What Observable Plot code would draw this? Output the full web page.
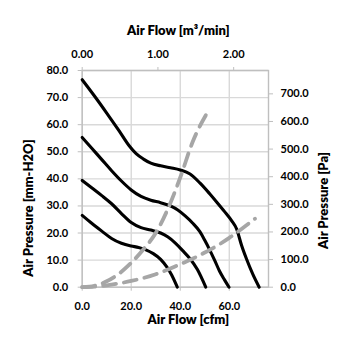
<!DOCTYPE html>
<html><head><meta charset="utf-8">
<script src="https://cdn.jsdelivr.net/npm/d3@7"></script>
<script src="https://cdn.jsdelivr.net/npm/@observablehq/plot@0.6"></script>
<style>html,body{margin:0;padding:0;background:#fff}#chart{width:355px;height:355px}</style>
</head><body><div id="chart"></div>
<script>
// Axis ticks
const cfmTicks = [0, 20, 40, 60];
const mmTicks = [0, 10, 20, 30, 40, 50, 60, 70, 80];
const paTicks = [0, 100, 200, 300, 400, 500, 600, 700];
const m3Ticks = [0, 1, 2];
const cfmMax = 76, mmMax = 80, m3Max = 2.46, paPerMm = 9.80665;

// Fan P-Q curves [cfm, mm-H2O]
const curveA = [[0,76.6],[5,70.6],[10,64.3],[15,57.8],[19,52.4],[22,49.3],[25,47.3],[28,45.8],[32,44.8],[36,44.1],[40,43.3],[44,41.8],[48,38.5],[52,34.5],[55,31.3],[58,28],[61,24.5],[63,21.5],[65,15.5],[67,10.5],[69.5,5],[72.2,0]];
const curveB = [[0,55.3],[4,51.2],[8,47.1],[12,43],[16,39.2],[20,35.9],[24,33.5],[28,32.1],[32,31.2],[36,30],[39,28.5],[42,26.3],[45,23.7],[48,20.5],[50,17.3],[52,13.8],[54,10],[56,6],[58,2.8],[59.9,0]];
const curveC = [[0,39.4],[4,36.6],[8,33.8],[12,30.8],[16,27.2],[20,23.9],[24,22],[28,21.1],[32,20],[35,18.5],[38,16.3],[41,13.5],[44,10.5],[47,6.5],[50.4,0]];
const curveD = [[0,26.5],[4,23.5],[8,20.7],[12,18],[16,16.2],[20,15.2],[23,14.7],[26,13.8],[29,12.4],[32,10.3],[34.5,7.5],[36.5,4.5],[38.8,0]];
// System impedance curves
const impHigh = [[0,0],[5,0.5],[10,2.2],[15,5],[20,9],[25,14],[30,20],[35,29],[40,40.5],[45,53.5],[51.7,65.5]];
const impLow = [[0,0],[5,0.2],[10,0.7],[15,1.4],[20,2.3],[25,3.4],[30,4.8],[35,6.5],[40,8.5],[45,10.5],[50,12.8],[55,15.3],[60,18.2],[65,21.5],[70.5,25.3]];

const fan = [["A",curveA],["B",curveB],["C",curveC],["D",curveD]]
  .flatMap(([k, pts]) => pts.map(([q, p]) => ({k, q, p})));
const imp = [["H",impHigh],["L",impLow]]
  .flatMap(([k, pts]) => pts.map(([q, p]) => ({k, q, p})));

const font = "Lato, 'Open Sans', sans-serif";
const gridColor = "#d9d9d9", axisColor = "#bfbfbf";
const titleStyle = {lineAnchor: "middle", textAnchor: "middle", fontSize: 13, fontWeight: 800, fill: "#000"};

const chart = Plot.plot({
  width: 355, height: 355,
  marginLeft: 81.7, marginRight: 87, marginTop: 70, marginBottom: 68.3,
  style: {fontFamily: font, fontSize: "11px", fontWeight: "bold", color: "#000", background: "#fff"},
  x: {domain: [0, cfmMax]},
  y: {domain: [0, mmMax]},
  marks: [
    Plot.gridX(cfmTicks, {stroke: gridColor, strokeOpacity: 1, strokeWidth: 1.4}),
    Plot.gridY(mmTicks, {stroke: gridColor, strokeOpacity: 1, strokeWidth: 1.4}),
    Plot.frame({stroke: axisColor, strokeWidth: 1.4}),
    Plot.axisX(cfmTicks, {anchor: "bottom", tickSize: 4, tickPadding: 11, tickFormat: d => d.toFixed(1), stroke: axisColor, fill: "#000", label: null}),
    Plot.axisX(m3Ticks, {anchor: "top", x: d => d * cfmMax / m3Max, text: d => d.toFixed(2), tickSize: 4, tickPadding: 9, stroke: axisColor, fill: "#000", label: null}),
    Plot.axisY(mmTicks, {anchor: "left", tickSize: 4, tickPadding: 10, tickFormat: d => d.toFixed(1), stroke: axisColor, fill: "#000", label: null}),
    Plot.axisY(paTicks, {anchor: "right", y: d => d / paPerMm, text: d => d.toFixed(1), tickSize: 4, tickPadding: 8, stroke: axisColor, fill: "#000", label: null}),
    Plot.line(fan, {x: "q", y: "p", z: "k", stroke: "#000", strokeWidth: 3.1, curve: "monotone-x"}),
    Plot.line(imp, {x: "q", y: "p", z: "k", stroke: "#a6a6a6", strokeWidth: 3.8, strokeDasharray: "13,8", curve: "monotone-x"}),
    Plot.text(["Air Flow [m³/min]"], {frameAnchor: "top", dx: 3, dy: -39.8, ...titleStyle}),
    Plot.text(["Air Flow [cfm]"], {frameAnchor: "bottom", dx: 13, dy: 32.8, ...titleStyle}),
    Plot.text(["Air Pressure [mm-H2O]"], {frameAnchor: "left", dx: -53.4, dy: 29.2, rotate: -90, ...titleStyle}),
    Plot.text(["Air Pressure [Pa]"], {frameAnchor: "right", dx: 55, dy: 21.7, rotate: -90, ...titleStyle})
  ]
});
document.getElementById("chart").appendChild(chart);
</script>
</body></html>
